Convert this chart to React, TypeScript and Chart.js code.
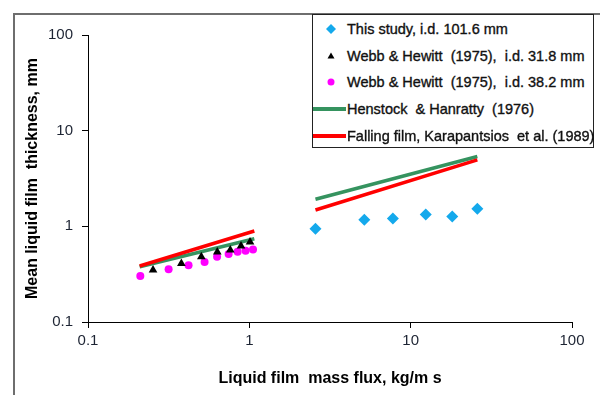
import React, { useEffect, useRef } from "react";
import { Chart, registerables } from "chart.js";
Chart.register(...registerables);

// ---- data ----
const thisStudyX = [2.57, 5.16, 7.76, 12.4, 18.1, 25.9];
const thisStudyY = [0.946, 1.17, 1.21, 1.33, 1.27, 1.53];
const webb318X = [0.253, 0.379, 0.504, 0.633, 0.762, 0.888, 1.01];
const webb318Y = [0.349, 0.41, 0.482, 0.538, 0.565, 0.622, 0.685];
const webb382X = [0.211, 0.316, 0.42, 0.528, 0.631, 0.744, 0.846, 0.948, 1.054];
const webb382Y = [0.302, 0.355, 0.391, 0.423, 0.482, 0.513, 0.543, 0.557, 0.574];
// two segments separated by a gap (null)
const corrX = [0.209, 1.074, 1.6, 2.57, 25.9];
const henstockY = [0.378, 0.743, null, 1.92, 5.37];
const fallingY = [0.385, 0.893, null, 1.48, 4.95];

const xTicks = [0.1, 1, 10, 100];
const yTicks = [0.1, 1, 10, 100];

const seriesNames = [
  "This study, i.d. 101.6 mm",
  "Webb & Hewitt  (1975),  i.d. 31.8 mm",
  "Webb & Hewitt  (1975),  i.d. 38.2 mm",
  "Henstock  & Hanratty  (1976)",
  "Falling film, Karapantsios  et al. (1989)",
];
const xTitle = "Liquid film  mass flux, kg/m s";
const yTitle = "Mean liquid film  thickness, mm";

const BLUE = "#14a9ec";
const MAGENTA = "#ff00ff";
const GREEN = "#35935f";
const RED = "#ff0000";

const pts = (xs: number[], ys: (number | null)[]) =>
  xs.map((x, i) => ({ x, y: ys[i] as any }));

const FONT = "'Liberation Sans', Arial, sans-serif";

export default function App() {
  const ref = useRef<HTMLCanvasElement | null>(null);
  useEffect(() => {
    document.body.style.margin = "0";
    const ctx = ref.current!;
    const chart = new Chart(ctx, {
      type: "scatter",
      data: {
        datasets: [
          {
            label: seriesNames[3],
            data: pts(corrX, henstockY),
            showLine: true,
            spanGaps: false,
            borderColor: GREEN,
            borderWidth: 3.5,
            pointRadius: 0,
            order: 5,
          },
          {
            label: seriesNames[4],
            data: pts(corrX, fallingY),
            showLine: true,
            spanGaps: false,
            borderColor: RED,
            borderWidth: 3.5,
            pointRadius: 0,
            order: 4,
          },
          {
            label: seriesNames[0],
            data: pts(thisStudyX, thisStudyY),
            pointStyle: "rectRot",
            pointRadius: 6,
            backgroundColor: BLUE,
            borderColor: BLUE,
            borderWidth: 0,
            order: 1,
          },
          {
            label: seriesNames[1],
            data: pts(webb318X, webb318Y),
            pointStyle: "triangle",
            pointRadius: 5,
            backgroundColor: "#000",
            borderColor: "#000",
            borderWidth: 0,
            order: 2,
          },
          {
            label: seriesNames[2],
            data: pts(webb382X, webb382Y),
            pointStyle: "circle",
            pointRadius: 4,
            backgroundColor: MAGENTA,
            borderColor: MAGENTA,
            borderWidth: 0,
            order: 3,
          },
        ],
      },
      options: {
        animation: false,
        responsive: false,
        maintainAspectRatio: false,
        layout: { padding: { left: 0, top: 35, right: 28, bottom: 0 } },
        plugins: { legend: { display: false }, tooltip: { enabled: false } },
        scales: {
          x: {
            type: "logarithmic",
            min: 0.1,
            max: 100,
            afterBuildTicks: (s: any) => {
              s.ticks = xTicks.map((v) => ({ value: v }));
            },
            afterFit: (s: any) => {
              s.height = 73;
            },
            ticks: {
              callback: (v: any) => String(v),
              font: { family: FONT, size: 15 },
              color: "#1d2433",
              padding: 4,
              maxRotation: 0,
              autoSkip: false,
            },
            grid: { drawOnChartArea: false, tickLength: 6, color: "#000", lineWidth: 1 },
            border: { color: "#000", width: 1 },
            title: {
              display: true,
              text: xTitle,
              font: { family: FONT, size: 16, weight: "bold" },
              color: "#000",
              padding: { top: 0, bottom: 7 },
            },
          },
          y: {
            type: "logarithmic",
            min: 0.1,
            max: 100,
            afterBuildTicks: (s: any) => {
              s.ticks = yTicks.map((v) => ({ value: v }));
            },
            afterFit: (s: any) => {
              s.width = 88;
            },
            ticks: {
              callback: (v: any) => String(v),
              font: { family: FONT, size: 15 },
              color: "#1d2433",
              padding: 9,
              autoSkip: false,
            },
            grid: { drawOnChartArea: false, tickLength: 6, color: "#000", lineWidth: 1 },
            border: { color: "#000", width: 1 },
            title: {
              display: true,
              text: yTitle,
              font: { family: FONT, size: 16, weight: "bold" },
              color: "#000",
              padding: { top: 23, bottom: 0 },
            },
          },
        },
      },
    } as any);
    return () => chart.destroy();
  }, []);

  const rowCenters = [14, 41, 67, 94, 121];
  const marker = (i: number) => {
    if (i === 0)
      return (
        <svg width="33" height="20">
          <polygon points="18,5 23,10 18,15 13,10" fill={BLUE} />
        </svg>
      );
    if (i === 1)
      return (
        <svg width="33" height="20">
          <polygon points="18,6.5 21.5,12.5 14.5,12.5" fill="#000" />
        </svg>
      );
    if (i === 2)
      return (
        <svg width="33" height="20">
          <circle cx="18" cy="10" r="3.5" fill={MAGENTA} />
        </svg>
      );
    return (
      <svg width="33" height="20">
        <line x1="0" y1="10" x2="33" y2="10" stroke={i === 3 ? GREEN : RED} strokeWidth="4" />
      </svg>
    );
  };

  return (
    <div style={{ position: "relative", width: 600, height: 395, overflow: "hidden", background: "#fff" }}>
      <canvas ref={ref} width={600} height={395} style={{ position: "absolute", left: 0, top: 0 }} />
      <div
        style={{
          position: "absolute",
          left: 13,
          top: 13,
          width: 700,
          height: 500,
          borderLeft: "2px solid #6e6e6e",
          borderTop: "2px solid #6e6e6e",
          pointerEvents: "none",
        }}
      />
      <div
        style={{
          position: "absolute",
          left: 312,
          top: 14,
          width: 280,
          height: 132,
          border: "1px solid #222",
          background: "#fff",
          fontFamily: FONT,
          fontSize: 14.5,
          color: "#111",
          WebkitTextStroke: "0.35px #111",
        }}
      >
        {seriesNames.map((name, i) => (
          <div
            key={i}
            style={{
              position: "absolute",
              left: 0,
              top: rowCenters[i] - 10,
              height: 20,
              display: "flex",
              alignItems: "center",
              whiteSpace: "pre",
            }}
          >
            {marker(i)}
            <span style={{ marginLeft: 1 }}>{name}</span>
          </div>
        ))}
      </div>
    </div>
  );
}
